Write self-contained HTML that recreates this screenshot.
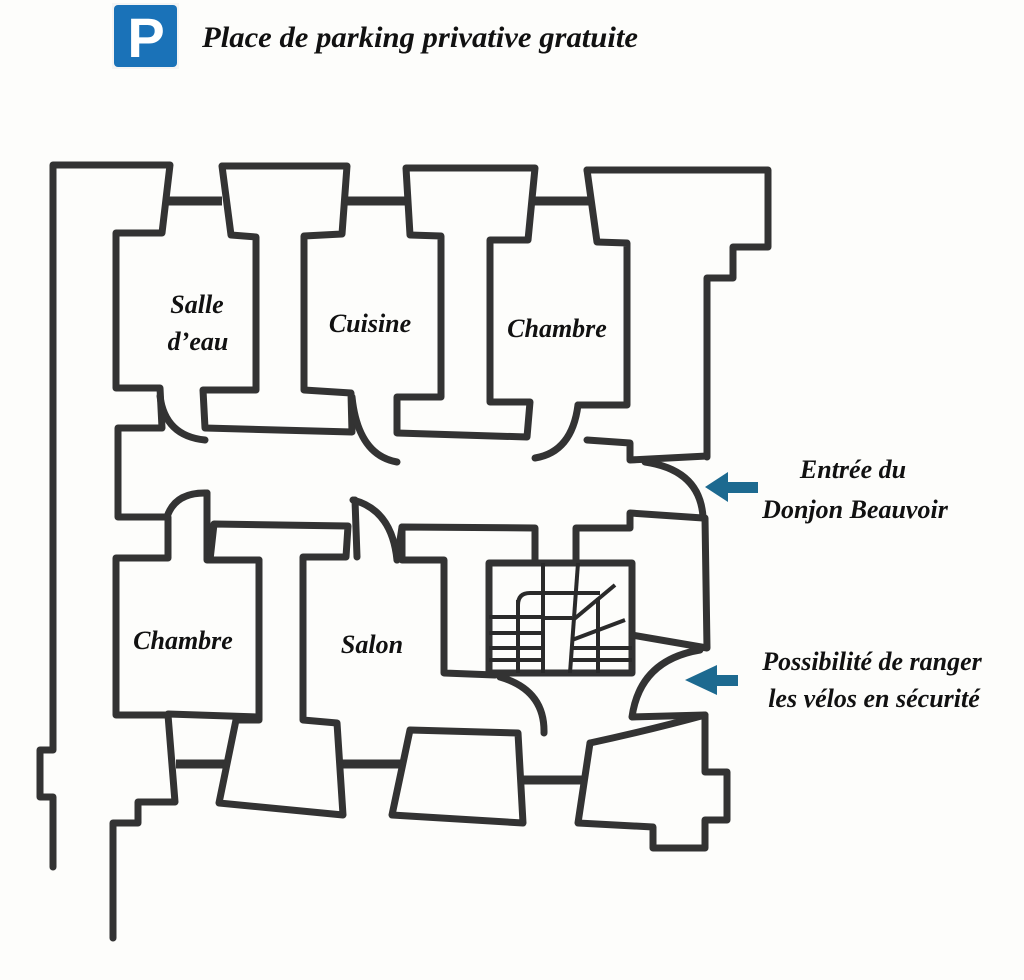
<!DOCTYPE html>
<html><head><meta charset="utf-8"><style>
html,body{margin:0;padding:0;background:#fdfdfb;}
svg{display:block}
.w{fill:none;stroke:#333;stroke-width:7;stroke-linejoin:round;stroke-linecap:round}
.b{stroke:#333;stroke-width:9;fill:none}
.s{fill:none;stroke:#2a2a2a;stroke-width:4}
text{font-family:"Liberation Serif","DejaVu Serif",serif;font-style:italic;font-weight:bold;fill:#111;text-anchor:middle}
</style></head><body>
<svg width="1024" height="980" viewBox="0 0 1024 980" xmlns="http://www.w3.org/2000/svg">
<rect x="112" y="3" width="67" height="66" fill="#f4f4f4"/>
<rect x="114" y="5" width="63" height="62" rx="4" fill="#1a72b8"/>
<text x="146" y="57" style="font-family:'Liberation Sans',sans-serif;font-style:normal;font-size:56px;fill:#fff">P</text>
<text x="420" y="47" style="font-size:30px" textLength="436" lengthAdjust="spacingAndGlyphs">Place de parking privative gratuite</text>

<line class="b" x1="166" y1="201" x2="222" y2="201"/>
<line class="b" x1="347" y1="201" x2="407" y2="201"/>
<line class="b" x1="530" y1="201" x2="590" y2="201"/>
<line class="b" x1="176" y1="764" x2="226" y2="764"/>
<line class="b" x1="339" y1="764" x2="403" y2="764"/>
<line class="b" x1="520" y1="780" x2="585" y2="780"/>

<polyline class="w" points="53,867 53,797 40,797 40,750 53,750 53,165 170,165 162,233 116,233 116,388 160,388 162,428 118,428 118,517 168,517 168,558 116,558 116,715 168,715 175,802 138,802 138,823 113,823 113,938"/>

<polygon class="w" points="222,166 347,166 342,234 304,236 304,390 351,393 352,432 205,428 203,390 256,390 256,237 231,235"/>
<polygon class="w" points="406,168 535,168 528,240 490,240 490,402 530,402 527,437 397,433 397,397 441,397 441,236 410,235"/>
<polyline class="w" points="587,170 768,170 768,247 733,247 733,278 707,278 707,457"/>
<polyline class="w" points="587,170 597,242 627,243 627,405 578,405"/>
<polyline class="w" points="587,440 630,443 630,460 707,456"/>

<path class="w" d="M160,396 Q165,436 205,440"/>
<path class="w" d="M352,397 Q358,455 397,462"/>
<path class="w" d="M578,405 Q572,452 535,458"/>
<path class="w" d="M645,462 Q700,470 703,517"/>

<path class="w" d="M167,517 Q175,492 207,493"/>
<polyline class="w" points="207,493 207,560 259,560 259,717 168,714"/>
<polygon class="w" points="214,524 348,526 346,557 303,557 303,720 337,723 343,815 219,803 236,720 259,720 259,560 210,560"/>
<path class="w" d="M353,500 Q392,510 397,560"/>
<line class="w" x1="355" y1="500" x2="357" y2="557"/>
<polyline class="w" points="397,560 402,527 535,528 535,563"/>
<polyline class="w" points="402,527 402,560 444,560 444,673 495,675"/>
<path class="w" d="M500,677 Q545,690 544,733"/>
<polygon class="w" points="410,730 518,733 523,823 392,815"/>
<polyline class="w" points="576,563 576,528 630,528 630,513 703,518"/>
<rect class="w" x="489" y="563" width="143" height="110"/>
<line class="s" x1="518" y1="600" x2="518" y2="673"/>
<path class="s" d="M518,605 Q518,593 530,593 L600,593"/>
<line class="s" x1="543" y1="563" x2="543" y2="673"/>
<line class="s" x1="578" y1="563" x2="570" y2="673"/>
<line class="s" x1="489" y1="617" x2="543" y2="617"/>
<line class="s" x1="489" y1="633" x2="543" y2="633"/>
<line class="s" x1="489" y1="648" x2="543" y2="648"/>
<line class="s" x1="489" y1="660" x2="543" y2="660"/>
<line class="s" x1="543" y1="618" x2="572" y2="618"/>
<line class="s" x1="573" y1="620" x2="615" y2="585"/>
<line class="s" x1="572" y1="640" x2="625" y2="620"/>
<line class="s" x1="598" y1="598" x2="598" y2="673"/>
<line class="s" x1="572" y1="648" x2="632" y2="648"/>
<line class="s" x1="572" y1="660" x2="632" y2="660"/>
<polyline class="w" points="705,518 707,648 632,635"/>
<path class="w" d="M700,650 Q640,660 632,717 L705,715"/>
<polyline class="w" points="705,715 705,772 727,772 727,820 705,820 705,848 653,848 653,827 578,823 590,743"/>
<path class="w" d="M590,743 Q650,730 705,715"/>

<g style="font-size:26px">
<text x="197" y="313">Salle</text>
<text x="198" y="350">d’eau</text>
<text x="370" y="332">Cuisine</text>
<text x="557" y="337">Chambre</text>
<text x="183" y="649">Chambre</text>
<text x="372" y="653">Salon</text>
<text x="853" y="478">Entrée du</text>
<text x="855" y="518">Donjon Beauvoir</text>
<text x="872" y="670">Possibilité de ranger</text>
<text x="874" y="707">les vélos en sécurité</text>
</g>
<polygon fill="#1d6a90" points="705,487 728,472 728,482 758,482 758,493 728,493 728,502"/>
<polygon fill="#1d6a90" points="685,680 717,665 717,675 738,675 738,686 717,686 717,695"/>
</svg>
</body></html>
